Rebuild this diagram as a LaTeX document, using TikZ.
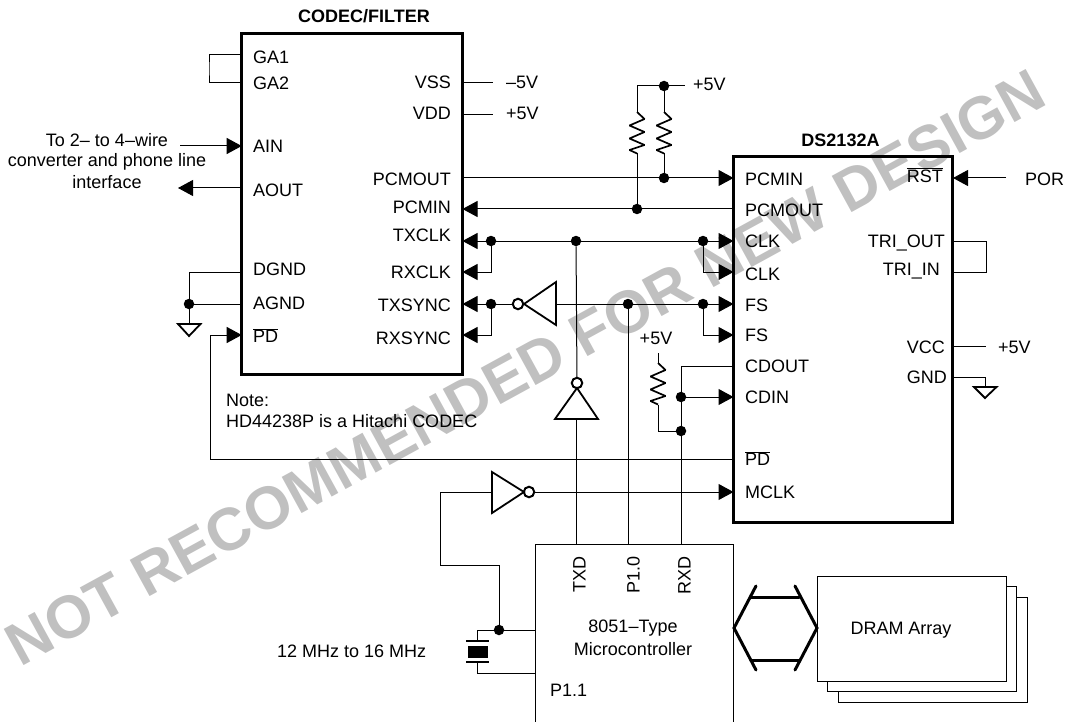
\documentclass[tikz,border=0pt]{standalone}
\usepackage{fontspec}
\setmainfont{Liberation Sans}
\usetikzlibrary{arrows.meta}

\definecolor{wmgray}{HTML}{C0C0C0}

\tikzstyle{wire} = [line width=1pt, black]
\tikzstyle{arr} = [wire, -{Triangle[length=15pt,width=16pt]}]
\tikzstyle{arrb} = [wire, {Triangle[length=15pt,width=16pt]}-{Triangle[length=15pt,width=16pt]}]
\tikzstyle{gate} = [line width=1.8pt, line join=miter]
\tikzstyle{zig} = [line width=1.7pt, line join=bevel]
\tikzstyle{bus} = [line width=3pt, line cap=round]
\tikzstyle{chip} = [draw, line width=3pt, inner sep=0, outer sep=0]
\tikzstyle{jdot} = [circle, fill=black, inner sep=0, minimum size=10.5pt]
\tikzstyle{bub} = [circle, draw, line width=2pt, fill=white, inner sep=0, minimum size=10.5pt]
\tikzstyle{txt} = [inner sep=0, font=\fontsize{18}{21}\selectfont, text height=13pt, text depth=0pt]
\tikzstyle{txtl} = [txt, anchor=west]
\tikzstyle{txtr} = [txt, anchor=east]
\tikzstyle{head} = [txt, font=\fontsize{18}{21}\selectfont\bfseries]

\newcommand*{\codecl}{241.7}
\newcommand*{\codecr}{462.5}
\newcommand*{\dsl}{733.5}
\newcommand*{\dsr}{953}
\newcommand*{\zigpath}{-- ++(7.5,7) -- ++(-15,6.5) -- ++(15,6.5) -- ++(-15,6.5) -- ++(15,6.5) -- ++(-15,5) -- ++(7.5,3.5)}

\begin{document}
\begin{tikzpicture}[x=1pt,y=-1pt]
\useasboundingbox (0,0) rectangle (1065,722);

%% watermark
\node [txt, font=\fontsize{60}{66}\selectfont\bfseries, text=wmgray, text height=43pt, rotate=28.7] (wmark) at (525,367) {NOT RECOMMENDED FOR NEW DESIGN};

%% chips
\node [chip, minimum width=220.8pt, minimum height=341.5pt] (codec) at (352.1,204.2) {};
\node [chip, minimum width=219.5pt, minimum height=365pt] (ds) at (843.2,339.5) {};
\node [head] (codect) at (364,16) {CODEC/FILTER};
\node [head] (dst) at (840.5,140) {DS2132A};

%% pins
\foreach \n/\y in {ga1/55,ga2/83,ain/146,aout/188,dgnd/272,agnd/304,cpd/335}
  {\coordinate (\n) at (\codecl,\y);}
\foreach \n/\y in {vss/83,vdd/115,pcmout/178,pcmin/209,txclk/241,rxclk/272,txsync/304,rxsync/335}
  {\coordinate (\n) at (\codecr,\y);}
\foreach \n/\y in {dpcmin/178,dpcmout/209,clka/241,clkb/272,fsa/304,fsb/335,cdout/366,cdin/397,dpd/459,mclk/492}
  {\coordinate (\n) at (\dsl,\y);}
\foreach \n/\y in {rst/178,triout/241,triin/272,vcc/346,gnd/377}
  {\coordinate (\n) at (\dsr,\y);}

%% pin labels
\foreach \n/\y/\t in {ga1/57/GA1,ga2/83/GA2,ain/146/AIN,aout/190/AOUT,dgnd/269/DGND,agnd/303/AGND,cpd/336/$\overline{\mbox{PD}}$}
  {\node [txtl] (\n t) at (253,\y) {\t};}
\foreach \n/\y/\t in {vss/82/VSS,vdd/113/VDD,pcmout/179/PCMOUT,pcmin/207/PCMIN,txclk/235/TXCLK,rxclk/272/RXCLK,txsync/305/TXSYNC,rxsync/338/RXSYNC}
  {\node [txtr] (\n t) at (451,\y) {\t};}
\foreach \n/\y/\t in {dpcmin/179/PCMIN,dpcmout/210/PCMOUT,clka/241/CLK,clkb/274/CLK,fsa/305/FS,fsb/335/FS,cdout/366/CDOUT,cdin/397/CDIN,dpd/459/$\overline{\mbox{PD}}$,mclk/492/MCLK}
  {\node [txtl] (\n t) at (745,\y) {\t};}
\foreach \n/\y/\x/\t in {rst/176/943/$\overline{\mbox{RST}}$,triout/241/945/TRI\_OUT,triin/269/940/TRI\_IN,vcc/347/945/VCC,gnd/377/947/GND}
  {\node [txtr] (\n t) at (\x,\y) {\t};}

%% outside labels
\node [txtl] (vsst) at (506,82) {--5V};
\node [txtl] (vddt) at (506,113) {+5V};
\node [txtl] (toppt) at (693,84) {+5V};
\node [txt] (cdpt) at (656,338) {+5V};
\node [txtl] (vcct) at (998,347) {+5V};
\node [txtl] (port) at (1025,179) {POR};
\node [txt] (linea) at (107,140) {To 2-- to 4--wire};
\node [txt] (lineb) at (107,160) {converter and phone line};
\node [txt] (linec) at (107,182) {interface};
\node [txtl] (notea) at (226,400) {Note:};
\node [txtl] (noteb) at (226,421) {HD44238P is a Hitachi CODEC};
\node [txtl] (xtalt) at (277,651) {12 MHz to 16 MHz};

%% junctions
\foreach \n/\x/\y in {jva/664/86,jpa/664/178,jpb/637/209,jtc/491/241,jtd/576/241,jck/703/241,jts/491/304,jfs/703/304,jpo/628/304,jci/681/397,jcr/681/431,jgn/189/304,jxt/499/630}
  {\node [jdot] (\n) at (\x,\y) {};}

%% free ends
\coordinate (vssend) at (493,83);
\coordinate (vddend) at (493,115);
\coordinate (ainend) at (180,146);
\coordinate (aoutend) at (178,188);
\coordinate (gaj) at (209,69);
\coordinate (trij) at (986,256);
\coordinate (vccend) at (986,346);
\coordinate (porend) at (1006,178);
\coordinate (vaend) at (685,86);
\coordinate (vbcorn) at (637,86);
\coordinate (pdc) at (210,459);
\coordinate (rla) at (637,112);
\coordinate (rlb) at (637,153.5);
\coordinate (rra) at (664,112);
\coordinate (rrb) at (664,153.5);
\coordinate (rca) at (658,363);
\coordinate (rcb) at (658,404.5);
\coordinate (rcv) at (658,353);
\coordinate (gna) at (189,324);
\coordinate (gnb) at (985,387);

%% power and analog
\draw [wire] (vss) -- (vssend);
\draw [wire] (vdd) -- (vddend);
\draw [wire] (ga1) -| (gaj) |- (ga2);
\draw [arr] (ainend) -- (ain);
\draw [arr] (aout) -- (aoutend);
\draw [wire] (dgnd) -| (jgn);
\draw [wire] (agnd) -- (jgn);
\draw [wire] (jgn) -- (gna);
\draw [gate] (178,324) -- (200.5,324) -- (189,336) -- cycle;
\draw [wire] (vcc) -- (vccend);
\draw [wire] (gnd) -| (gnb);
\draw [gate] (974,387) -- (996.5,387) -- (985,398) -- cycle;
\draw [wire] (triout) -| (trij) |- (triin);
\draw [arr] (porend) -- (rst);

%% pcm lines
\draw [arr] (pcmout) -- (dpcmin);
\draw [arr] (dpcmout) -- (pcmin);
\draw [wire] (vbcorn) -- (vaend);
\draw [wire] (vbcorn) -- (rla);
\draw [wire] (jva) -- (rra);
\draw [zig] (rla) \zigpath;
\draw [zig] (rra) \zigpath;
\draw [wire] (rlb) -- (jpb);
\draw [wire] (rrb) -- (jpa);

%% clock
\draw [arrb] (txclk) -- (clka);
\draw [arr] (jtc) |- (rxclk);
\draw [arr] (jck) |- (clkb);

%% sync with inverter
\node [bub] (buba) at (518,304) {};
\coordinate (inba) at (556,304);
\draw [gate] (556,282) -- (524,304) -- (556,325) -- cycle;
\draw [arr] (buba) -- (txsync);
\draw [arr] (jts) |- (rxsync);
\draw [arr] (inba) -- (fsa);
\draw [arr] (jfs) |- (fsb);

%% txd with inverter
\node [bub] (bubb) at (577,383) {};
\coordinate (inbb) at (576,419);
\draw [gate] (555,419) -- (577,388) -- (598,419) -- cycle;
\draw [wire] (jtd) -- (bubb);

%% mcu
\draw [wire] (535,722) -- (535,544) -- (733,544) -- (733,722);
\coordinate (ptxd) at (576,544);
\coordinate (ppo) at (628,544);
\coordinate (prxd) at (681,544);
\coordinate (pxa) at (535,630);
\coordinate (pxb) at (535,673);
\node [txt, rotate=90] (txdt) at (579,574) {TXD};
\node [txt, rotate=90] (pot) at (633,575) {P1.0};
\node [txt, rotate=90] (rxdt) at (684,575) {RXD};
\node [txt] (mcua) at (633,626) {8051--Type};
\node [txt] (mcub) at (633,649) {Microcontroller};
\node [txtl] (mcuc) at (550,690) {P1.1};
\draw [wire] (inbb) -- (ptxd);
\draw [wire] (jpo) -- (ppo);
\draw [wire] (cdout) -| (prxd);
\draw [arr] (jci) -- (cdin);

%% cd pull up
\draw [wire] (rcv) -- (rca);
\draw [zig] (rca) \zigpath;
\draw [wire] (rcb) |- (jcr);

%% power down
\draw [arr] (dpd) -- (pdc) |- (cpd);

%% mclk with inverter and crystal
\node [bub] (bubc) at (529,492) {};
\coordinate (inbc) at (492,492);
\coordinate (cka) at (440,492);
\coordinate (ckb) at (440,565);
\coordinate (ckc) at (499,565);
\coordinate (xta) at (477,641);
\coordinate (xtb) at (477,662);
\draw [gate] (492,472) -- (524,492) -- (492,513) -- cycle;
\draw [arr] (bubc) -- (mclk);
\draw [wire] (inbc) -- (cka) -- (ckb) -- (ckc) -- (jxt);
\draw [wire] (pxa) -- (jxt);
\draw [wire] (jxt) -| (xta);
\draw [wire] (xtb) |- (pxb);
\draw [gate] (466,641) -- (489,641);
\draw [gate] (466,662) -- (489,662);
\fill (467.5,646) rectangle (488,658);

%% dram
\foreach \d in {21,10.5,0}
  {\draw [wire, fill=white] (817+\d,576+\d) rectangle (1006+\d,681+\d);}
\node [txt] (dramt) at (901,628) {DRAM Array};

%% bus
\draw [bus] (756,586) -- (734,628) -- (756,670);
\draw [bus] (795,586) -- (817,628) -- (795,670);
\draw [bus] (751,597) -- (799,597);
\draw [bus] (751,660) -- (799,660);

\end{tikzpicture}
\end{document}
